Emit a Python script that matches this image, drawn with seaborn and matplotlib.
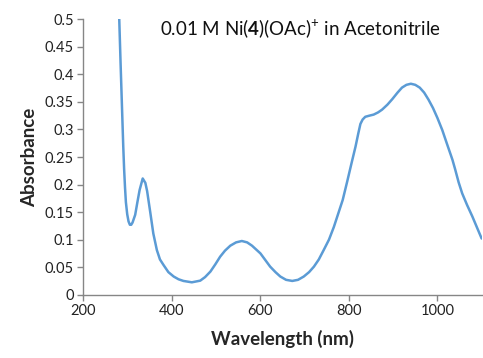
import numpy as np
import pandas as pd
import matplotlib
matplotlib.use("Agg")
import matplotlib.pyplot as plt
from matplotlib.ticker import FuncFormatter, MultipleLocator
import seaborn as sns

# absorbance spectrum
wavelength = [279, 281, 284, 287, 290, 292, 294, 296, 299, 302, 305, 308, 311,
              317, 322, 327, 334, 340, 344, 351, 358, 366, 373, 381, 392, 404,
              415, 426, 445, 464, 475, 487, 498, 509, 520, 532, 545, 558, 570,
              581, 600, 611, 622, 634, 645, 658, 672, 685, 698, 710, 721, 732,
              743, 755, 766, 777, 786, 796, 806, 815, 821, 826, 831, 837, 846,
              856, 866, 875, 887, 898, 910, 920, 930, 940, 950, 960, 970, 980,
              990, 1000, 1011, 1022, 1034, 1040, 1048, 1056, 1067, 1079, 1090,
              1100]
absorbance = [0.55, 0.50, 0.42, 0.345, 0.270, 0.228, 0.195, 0.168, 0.146, 0.133,
              0.127, 0.127, 0.131, 0.145, 0.168, 0.190, 0.211, 0.203, 0.188,
              0.150, 0.111, 0.081, 0.064, 0.054, 0.041, 0.033, 0.028, 0.025,
              0.0225, 0.0255, 0.032, 0.042, 0.055, 0.069, 0.080, 0.089, 0.095,
              0.0975, 0.095, 0.089, 0.075, 0.063, 0.051, 0.041, 0.033, 0.027,
              0.025, 0.027, 0.033, 0.041, 0.051, 0.064, 0.081, 0.100, 0.123,
              0.150, 0.172, 0.205, 0.239, 0.269, 0.292, 0.310, 0.318, 0.323,
              0.325, 0.327, 0.331, 0.336, 0.345, 0.355, 0.367, 0.376, 0.381,
              0.383, 0.381, 0.376, 0.367, 0.354, 0.339, 0.321, 0.299, 0.273,
              0.245, 0.228, 0.204, 0.184, 0.163, 0.142, 0.121, 0.102]

title = r"0.01 M Ni($\mathbf{4}$)(OAc)$^{+}$ in Acetonitrile"

sns.set_style("ticks")
plt.rcParams["font.family"] = ["Lato", "DejaVu Sans"]
plt.rcParams["mathtext.fontset"] = "custom"
plt.rcParams["mathtext.rm"] = "Lato"
plt.rcParams["mathtext.bf"] = "Lato:bold"

df = pd.DataFrame({"Wavelength": wavelength, "Absorbance": absorbance})

fig = plt.figure(figsize=(4.83, 3.58), dpi=100)
ax = fig.add_axes([0.1727, 0.1768, 0.8245, 0.7693])
sns.lineplot(data=df, x="Wavelength", y="Absorbance", ax=ax, sort=False,
             color="#5B9BD5", linewidth=1.8)

ax.set_xlim(200, 1100)
ax.set_ylim(0, 0.5)
ax.xaxis.set_major_locator(MultipleLocator(200))
ax.yaxis.set_major_locator(MultipleLocator(0.05))
ax.yaxis.set_major_formatter(FuncFormatter(lambda v, p: "%g" % round(v, 2)))

grey = "#868686"
for s in ["top", "right"]:
    ax.spines[s].set_visible(False)
for s in ["left", "bottom"]:
    ax.spines[s].set_color(grey)
    ax.spines[s].set_linewidth(1.0)
ax.tick_params(axis="both", colors=grey, length=4, width=1.0, direction="out",
               labelsize=10.5, labelcolor="#222222", pad=3)

ax.set_xlabel("Wavelength (nm)", fontsize=13.5, fontweight="bold", labelpad=8)
ax.set_ylabel("Absorbance", fontsize=13.5, fontweight="bold", labelpad=5)

ax.text(0.192, 0.968, title, transform=ax.transAxes, fontsize=13.5,
        ha="left", va="center", color="#111111")

fig.savefig("out.png", dpi=100)
